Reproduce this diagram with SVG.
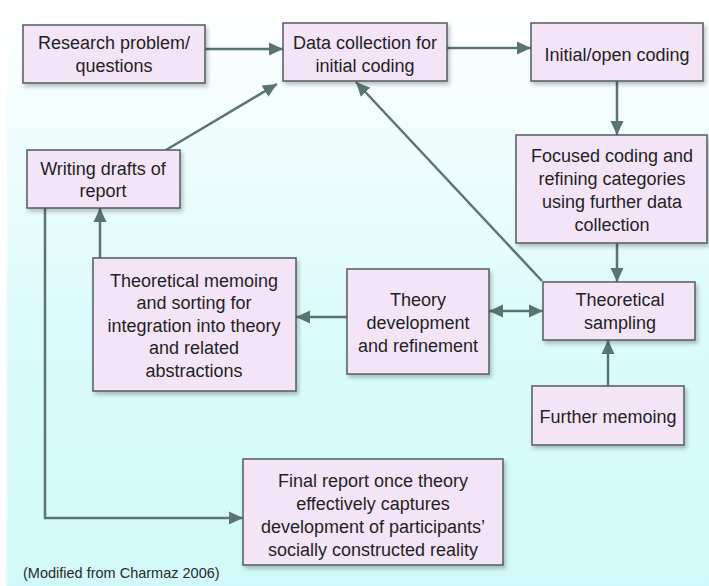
<svg xmlns="http://www.w3.org/2000/svg" width="709" height="586" viewBox="0 0 709 586">
  <defs>
    <linearGradient id="bg" x1="0" y1="0" x2="0" y2="1">
      <stop offset="0" stop-color="#ffffff"/>
      <stop offset="0.55" stop-color="#dcfbfb"/>
      <stop offset="1" stop-color="#d2f9f9"/>
    </linearGradient>
    <filter id="shadow" x="-10%" y="-10%" width="130%" height="140%">
      <feGaussianBlur in="SourceAlpha" stdDeviation="2"/>
      <feOffset dx="2" dy="3" result="b"/>
      <feComponentTransfer><feFuncA type="linear" slope="0.25"/></feComponentTransfer>
      <feMerge><feMergeNode/><feMergeNode in="SourceGraphic"/></feMerge>
    </filter>
    <marker id="arrow" markerUnits="userSpaceOnUse" markerWidth="16" markerHeight="14" refX="14" refY="7" orient="auto">
      <path d="M0,0.5 L14,7 L0,13.5 Z" fill="#5b7372"/>
    </marker>
    <marker id="arrowStart" markerUnits="userSpaceOnUse" markerWidth="16" markerHeight="14" refX="2" refY="7" orient="auto">
      <path d="M16,0.5 L2,7 L16,13.5 Z" fill="#5b7372"/>
    </marker>
  </defs>
  <style>
    .box { fill: #f4e4f7; stroke: #525c5e; stroke-width: 1.5; filter: url(#shadow); }
    .lbl { font-family: "Liberation Sans", Arial, sans-serif; font-size: 18px; fill: #1f1f1f; text-anchor: middle; }
    .cap { font-family: "Liberation Sans", Arial, sans-serif; font-size: 14.5px; fill: #2a2a2a; }
    .edge { fill: none; stroke: #5b7372; stroke-width: 2.5; }
  </style>

  <!-- background -->
  <rect x="0" y="0" width="709" height="586" fill="url(#bg)"/>
  <rect x="0" y="0" width="7" height="586" fill="#ffffff"/>

  <!-- connectors -->
  <g id="connectors">
    <line class="edge" x1="205" y1="49" x2="283" y2="49" marker-end="url(#arrow)"/>
    <line class="edge" x1="447" y1="48" x2="531" y2="48" marker-end="url(#arrow)"/>
    <line class="edge" x1="617" y1="81" x2="617" y2="135" marker-end="url(#arrow)"/>
    <line class="edge" x1="617" y1="243" x2="617" y2="282" marker-end="url(#arrow)"/>
    <line class="edge" x1="608" y1="386" x2="608" y2="340" marker-end="url(#arrow)"/>
    <line class="edge" x1="489" y1="311" x2="543" y2="311" marker-start="url(#arrowStart)" marker-end="url(#arrow)"/>
    <line class="edge" x1="347" y1="317" x2="296" y2="317" marker-end="url(#arrow)"/>
    <line class="edge" x1="100" y1="258" x2="100" y2="208" marker-end="url(#arrow)"/>
    <line class="edge" x1="166" y1="150" x2="277" y2="84" marker-end="url(#arrow)"/>
    <line class="edge" x1="542" y1="281" x2="356" y2="82" marker-end="url(#arrow)"/>
    <polyline class="edge" points="45,208 45,518 243,518" marker-end="url(#arrow)"/>
  </g>

  <!-- nodes -->
  <g id="research-problem">
    <rect class="box" x="23" y="25" width="182" height="58"/>
    <text class="lbl" x="114" y="49">Research problem/</text>
    <text class="lbl" x="114" y="72">questions</text>
  </g>
  <g id="data-collection">
    <rect class="box" x="283" y="23" width="164" height="58"/>
    <text class="lbl" x="365" y="49">Data collection for</text>
    <text class="lbl" x="365" y="72">initial coding</text>
  </g>
  <g id="open-coding">
    <rect class="box" x="531" y="23" width="172" height="58"/>
    <text class="lbl" x="617" y="61">Initial/open coding</text>
  </g>
  <g id="focused-coding">
    <rect class="box" x="516" y="135" width="191" height="108"/>
    <text class="lbl" x="612" y="162">Focused coding and</text>
    <text class="lbl" x="612" y="185">refining categories</text>
    <text class="lbl" x="612" y="208">using further data</text>
    <text class="lbl" x="612" y="231">collection</text>
  </g>
  <g id="theoretical-sampling">
    <rect class="box" x="543" y="282" width="152" height="58"/>
    <text class="lbl" x="620" y="306">Theoretical</text>
    <text class="lbl" x="620" y="329">sampling</text>
  </g>
  <g id="theory-development">
    <rect class="box" x="347" y="269" width="142" height="105"/>
    <text class="lbl" x="418" y="306">Theory</text>
    <text class="lbl" x="418" y="329">development</text>
    <text class="lbl" x="418" y="352">and refinement</text>
  </g>
  <g id="further-memoing">
    <rect class="box" x="532" y="386" width="152" height="59"/>
    <text class="lbl" x="608" y="423">Further memoing</text>
  </g>
  <g id="writing-drafts">
    <rect class="box" x="27" y="150" width="153" height="58"/>
    <text class="lbl" x="103" y="175">Writing drafts of</text>
    <text class="lbl" x="103" y="197">report</text>
  </g>
  <g id="theoretical-memoing">
    <rect class="box" x="93" y="258" width="203" height="133"/>
    <text class="lbl" x="194" y="287">Theoretical memoing</text>
    <text class="lbl" x="194" y="309">and sorting for</text>
    <text class="lbl" x="194" y="332">integration into theory</text>
    <text class="lbl" x="194" y="354">and related</text>
    <text class="lbl" x="194" y="377">abstractions</text>
  </g>
  <g id="final-report">
    <rect class="box" x="243" y="459" width="260" height="106"/>
    <text class="lbl" x="373" y="487">Final report once theory</text>
    <text class="lbl" x="373" y="510">effectively captures</text>
    <text class="lbl" x="373" y="533">development of participants’</text>
    <text class="lbl" x="373" y="556">socially constructed reality</text>
  </g>

  <!-- source note -->
  <text class="cap" x="23" y="578">(Modified from Charmaz 2006)</text>
</svg>
